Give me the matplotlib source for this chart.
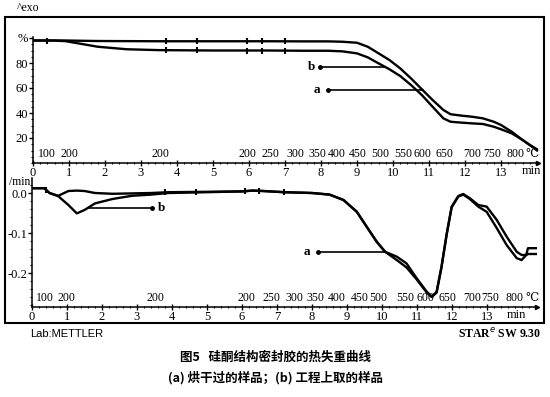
import numpy as np
import matplotlib
matplotlib.use('Agg')
import matplotlib.pyplot as plt
from matplotlib.patches import Rectangle
from matplotlib.ticker import MultipleLocator

plt.rcParams['font.family'] = ['Liberation Serif', 'DejaVu Serif']

W, H = 550, 397

# TG curves, mass % vs time (min)
tg_time = [0, 0.5, 0.9, 1.3, 1.8, 2.6, 3.5, 5.0, 6.5, 7.5, 8.2, 8.6, 9.0, 9.3, 9.6, 9.9,
           10.2, 10.5, 10.8, 11.1, 11.4, 11.6, 11.9, 12.2, 12.5, 12.8, 13.0, 13.3, 13.6, 13.8, 14.0]
tg_a = [98, 98, 98, 97.8, 97.6, 97.5, 97.4, 97.4, 97.4, 97.3, 97.3, 97.0, 96.2, 93, 87.7, 82.4,
        75.7, 67.7, 59, 50.4, 42.4, 39, 37.9, 37, 35.7, 33, 30.4, 25, 18.4, 14.4, 11]
tg_b = [98, 98, 97.5, 95.5, 93, 91, 90.3, 90.0, 90.0, 89.8, 89.8, 89.3, 87.7, 84.5, 79.7, 75,
        69.6, 62.4, 54.4, 45, 35.7, 33, 32.3, 31.7, 31.2, 29, 27, 23.7, 18.4, 14.4, 10]

# DTG curves, 1/min vs time (min)
dtg_time = [0, 0.35, 0.5, 0.75, 1.04, 1.28, 1.5, 1.8, 2.3, 2.85, 3.4, 3.9, 5.0, 6.0, 6.3, 6.6,
            7.2, 8.0, 8.5, 8.9, 9.28, 9.56, 9.85, 10.09, 10.42, 10.7, 10.99, 11.28, 11.42, 11.56,
            11.7, 11.85, 11.99, 12.18, 12.32, 12.51, 12.75, 12.99, 13.28, 13.56, 13.85, 13.99,
            14.12, 14.17, 14.4]
dtg_a = [0.012, 0.012, 0.0, -0.007, 0.005, 0.006, 0.005, 0.0, -0.002, -0.001, 0.0, 0.002, 0.003,
         0.004, 0.006, 0.005, 0.002, 0.0, -0.004, -0.0175, -0.047, -0.084, -0.122, -0.147, -0.159,
         -0.176, -0.213, -0.247, -0.259, -0.247, -0.184, -0.101, -0.034, -0.0075, -0.0025, -0.013,
         -0.03, -0.034, -0.0675, -0.109, -0.147, -0.155, -0.155, -0.138, -0.138]
dtg_b = [0.012, 0.012, 0.0, -0.008, -0.03, -0.051, -0.0425, -0.026, -0.015, -0.007, -0.004, 0.0,
         0.002, 0.004, 0.006, 0.005, 0.002, 0.0, -0.004, -0.0175, -0.047, -0.084, -0.122, -0.147,
         -0.1675, -0.186, -0.216, -0.249, -0.260, -0.249, -0.186, -0.103, -0.036, -0.009, -0.004,
         -0.015, -0.034, -0.047, -0.088, -0.13, -0.163, -0.1675, -0.155, -0.1525, -0.1525]

# temperature marks (deg C) along the time axis
temp_labels = ['100', '200', '200', '200', '250', '300', '350', '400', '450', '500', '550',
               '600', '650', '700', '750', '800', '℃']
temp_pos_top = [0.39, 1.0, 3.53, 5.97, 6.6, 7.28, 7.89, 8.44, 9.03, 9.64, 10.28, 10.83, 11.44,
                12.19, 12.75, 13.39, 13.86]
temp_pos_bot = [0.37, 0.97, 3.54, 6.14, 6.83, 7.51, 8.09, 8.7, 9.37, 9.89, 10.66, 11.23, 11.86,
                12.57, 13.09, 13.8, 14.29]
seg_top = [0.4, 3.7, 4.56, 5.95, 6.35, 7.0]
seg_bot = [0.4, 3.8, 4.7, 6.1, 6.5, 7.2]


def px_rect(left, top, right, bottom):
    return [left / W, 1 - bottom / H, (right - left) / W, (bottom - top) / H]


fig = plt.figure(figsize=(W / 100, H / 100), dpi=100)

ax1 = fig.add_axes(px_rect(33, 37, 538, 163))
ax2 = fig.add_axes(px_rect(32, 178, 537, 307))

for ax in (ax1, ax2):
    for s in ('top', 'right'):
        ax.spines[s].set_visible(False)
    for s in ('left', 'bottom'):
        ax.spines[s].set_linewidth(1.1)
    ax.patch.set_alpha(0)
    ax.xaxis.set_major_locator(MultipleLocator(1))
    ax.xaxis.set_minor_locator(MultipleLocator(0.2))
    ax.tick_params(axis='x', which='major', direction='inout', length=4, width=1, pad=1.2, labelsize=9)
    ax.tick_params(axis='x', which='minor', direction='inout', length=2, width=0.8)
    ax.tick_params(axis='y', which='major', direction='out', length=3, width=1, pad=0.5, labelsize=9)
    ax.tick_params(axis='y', which='minor', direction='out', length=1.5, width=0.8)
    ax.plot(1, 0, '>k', ms=3, transform=ax.transAxes, clip_on=False)

# top: TG
ax1.set_xlim(0, 505 / 36)
ax1.set_ylim(0, 126 / 1.25)
ax1.set_xticks(range(14))
ax1.set_yticks([20, 40, 60, 80, 100])
ax1.set_yticklabels(['20', '40', '60', '80', '%'])
ax1.yaxis.set_minor_locator(MultipleLocator(5))
ax1.plot(tg_time, tg_a, color='black', lw=1.7)
ax1.plot(tg_time, tg_b, color='black', lw=1.7)
ax1.plot(seg_top, np.interp(seg_top, tg_time, tg_a), '|k', ms=4, mew=1.5)
ax1.plot(seg_top, np.interp(seg_top, tg_time, tg_b), '|k', ms=4, mew=1.5)

# bottom: DTG
ax2.set_xlim(0, 505 / 35)
ax2.set_ylim(-0.285, -0.285 + 129 / 400)
ax2.set_xticks(range(14))
ax2.set_yticks([0.0, -0.1, -0.2])
ax2.set_yticklabels(['0.0', '-0.1', '-0.2'])
ax2.yaxis.set_minor_locator(MultipleLocator(0.02))
ax2.plot(dtg_time, dtg_a, color='black', lw=1.7)
ax2.plot(dtg_time, dtg_b, color='black', lw=1.7)
ax2.plot(seg_bot, np.interp(seg_bot, dtg_time, dtg_a), '|k', ms=4, mew=1.5)

for ax, pos in ((ax1, temp_pos_top), (ax2, temp_pos_bot)):
    for lab, t in zip(temp_labels, pos):
        ax.text(t, 0.07, lab, transform=ax.get_xaxis_transform(), ha='center', va='center',
                fontsize=8.5)
    ax.text(13.85, -0.065, 'min', transform=ax.get_xaxis_transform(), ha='center', va='center',
            fontsize=9)

ax2.text(-0.003, 0.028, '/min', transform=ax2.get_yaxis_transform(), ha='right', va='center',
         fontsize=8.5)


# leader lines with labels: (axis, label, time, curve, target time, dot time, label time)
def leader(ax, label, time, curve, t_hit, t_dot, t_lab):
    y = np.interp(t_hit, time, curve)
    ax.plot([t_dot, t_hit], [y, y], color='black', lw=1.2)
    ax.plot(t_dot, y, 'o', color='black', ms=2.5)
    ax.text(t_lab, y, label, ha='center', va='center', fontsize=9.5, fontweight='bold')


leader(ax1, 'b', tg_time, tg_b, 9.78, 7.97, 7.75)
leader(ax1, 'a', tg_time, tg_a, 10.83, 8.19, 7.89)
leader(ax2, 'a', dtg_time, dtg_a, 10.09, 8.17, 7.86)
leader(ax2, 'b', dtg_time, dtg_b, 1.61, 3.42, 3.7)

# outer frame and surrounding texts
fig.add_artist(Rectangle((5 / W, 1 - 323 / H), 539 / W, 306 / H, transform=fig.transFigure,
                         fill=False, lw=1.5, edgecolor='black'))
fig.text(17 / W, 1 - 8 / H, '^exo', fontsize=8.5, va='center', ha='left')
fig.text(30 / W, 1 - 334 / H, 'Lab:METTLER', fontsize=8, va='center', ha='left',
         family='Liberation Sans')
fig.text(541 / W, 1 - 334 / H, 'STAR$^e$ SW 9.30', fontsize=8.5, va='center', ha='right',
         fontweight='bold')

cjk = ['Noto Sans CJK SC', 'DejaVu Sans']
fig.text(0.5, 1 - 357 / H, '图5   硅酮结构密封胶的热失重曲线', fontsize=9, fontweight='bold',
         ha='center', va='center', family=cjk)
fig.text(0.5, 1 - 378 / H, '(a) 烘干过的样品；(b) 工程上取的样品', fontsize=9,
         fontweight='bold', ha='center', va='center', family=cjk)

fig.savefig('out.png', dpi=100)
